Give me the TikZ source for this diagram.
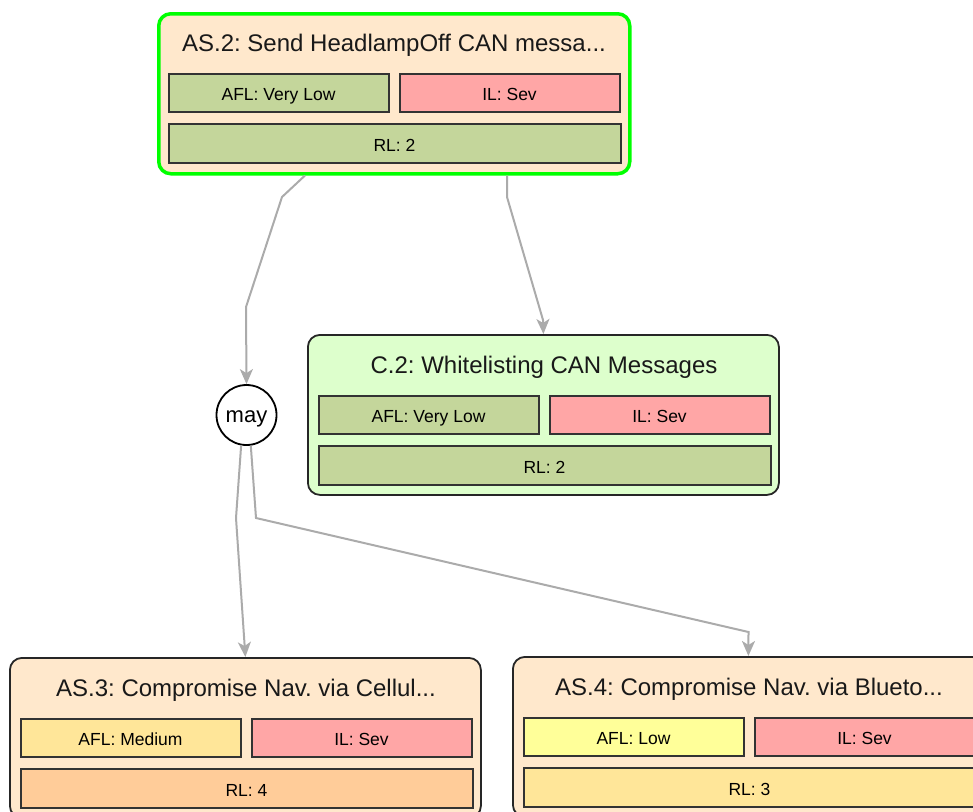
\documentclass[tikz,border=0pt]{standalone}
\usepackage{fontspec}
\setmainfont{Liberation Sans}
\usetikzlibrary{arrows.meta,calc}
\frenchspacing

\definecolor{cardpeach}{HTML}{FFE8CC}
\definecolor{cardmint}{HTML}{DDFFCC}
\definecolor{lvlgreen}{HTML}{C4D69B}
\definecolor{lvlred}{HTML}{FFA6A6}
\definecolor{lvlamber}{HTML}{FFE699}
\definecolor{lvllemon}{HTML}{FFFF99}
\definecolor{lvlorange}{HTML}{FFCC99}
\definecolor{edgegray}{HTML}{ABABAB}
\definecolor{focusgreen}{HTML}{00FF00}

\tikzset{
  card/.style={draw=black!85, line width=1.8pt, rounded corners=12pt,
    minimum width=471pt, minimum height=160pt, anchor=north west, inner sep=0pt},
  focused/.style={draw=focusgreen, line width=3.5pt},
  cardtitle/.style={font=\fontsize{24}{28}\selectfont, text=black!90, anchor=center,
    inner sep=0pt, text height=17.2pt, text depth=0pt},
  level/.style={draw=black!80, line width=2pt, anchor=north west, minimum height=38pt,
    inner sep=0pt, font=\fontsize{17.5}{20}\selectfont, text=black,
    text height=16.5pt, text depth=0pt},
  halfbox/.style={level, minimum width=220pt},
  fullbox/.style={level, minimum width=452pt, minimum height=39pt},
  link/.style={draw=edgegray, line width=2pt, -{Stealth[length=15pt,width=13pt,inset=4pt]}},
  gate/.style={circle, draw=black, line width=1.8pt, fill=white, minimum size=60pt,
    inner sep=0pt, font=\fontsize{22}{26}\selectfont, text height=14.4pt, text depth=0pt},
}

% \riskcard[extra style]{name}{top-left}{card fill}{title}{AFL fill}{AFL text}{RL fill}{RL text}
\newcommand{\riskcard}[9][]{%
  \node[card, fill=#4, #1] (#2) at (#3) {};
  \node[cardtitle] (#2-title) at ($(#2.north west)+(237,31)$) {#5};
  \node[halfbox, fill=#6] (#2-afl) at ($(#2.north west)+(10.5,60.5)$) {#7};
  \node[halfbox, fill=lvlred] (#2-il) at ($(#2.north west)+(241.5,60.5)$) {IL: Sev};
  \node[fullbox, fill=#8] (#2-rl) at ($(#2.north west)+(10.5,110.5)$) {#9};
}

\begin{document}
\begin{tikzpicture}[x=1pt, y=-1pt]
  \useasboundingbox (0,0) rectangle (973,811);
  \clip (0,0) rectangle (973,811);

  % attack steps and control
  \riskcard[focused]{as2}{157,12}{cardpeach}{AS.2: Send HeadlampOff CAN messa...}{lvlgreen}{AFL: Very Low}{lvlgreen}{RL: 2}
  \riskcard{c2}{307,334}{cardmint}{C.2: Whitelisting CAN Messages}{lvlgreen}{AFL: Very Low}{lvlgreen}{RL: 2}
  \riskcard{as3}{9,657}{cardpeach}{AS.3: Compromise Nav. via Cellul...}{lvlamber}{AFL: Medium}{lvlorange}{RL: 4}
  \riskcard{as4}{512,656}{cardpeach}{AS.4: Compromise Nav. via Blueto...}{lvllemon}{AFL: Low}{lvlamber}{RL: 3}

  % "may" junction
  \node[gate] (may) at (246.5,415) {may};

  % bend points of the connectors
  \coordinate (b1) at (282,197);
  \coordinate (b2) at (246,307);
  \coordinate (b3) at (507,197);
  \coordinate (b4) at (543,320);
  \coordinate (b5) at (236,518);
  \coordinate (b6) at (256,518);
  \coordinate (b7) at (748.5,632);

  % connectors
  \draw[link] ($(as2.south west)+(148,0)$) -- (b1) -- (b2) -- (may.north);
  \draw[link] ($(as2.south west)+(350,0)$) -- (b3) -- (b4) -- (c2.north);
  \draw[link] (may.260) -- (b5) -- (as3.north);
  \draw[link] (may.278) -- (b6) -- (b7) -- (as4.north);
\end{tikzpicture}
\end{document}
